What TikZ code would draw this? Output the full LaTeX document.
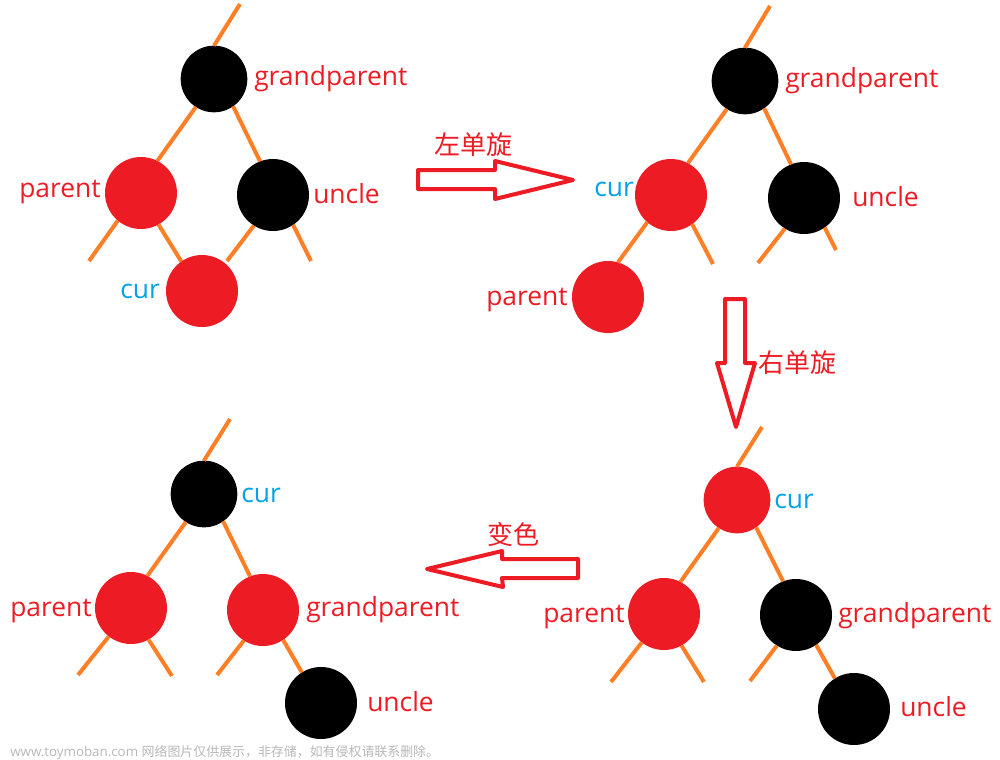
\documentclass[tikz,border=0pt]{standalone}
\usepackage{fontspec}
\setmainfont{Open Sans}
\newfontfamily\cjk{Noto Sans CJK SC}
\definecolor{pred}{HTML}{ED1C24}
\definecolor{porange}{HTML}{FF7F27}
\definecolor{pblue}{HTML}{00A2E8}
\tikzset{
  big/.style={circle,inner sep=0pt,outer sep=0pt,minimum size=54pt},
  small/.style={circle,inner sep=0pt,outer sep=0pt,minimum size=50pt},
  rn/.style={fill=pred},
  bn/.style={fill=black},
  link/.style={draw=porange,line width=3pt},
  redlabel/.style={text=pred,anchor=base west,inner sep=0pt,xshift=-0.75pt,yshift=-0.5pt,font=\fontsize{19.8pt}{22pt}\selectfont},
  bluelabel/.style={text=pblue,anchor=base west,inner sep=0pt,xshift=-0.75pt,yshift=-0.5pt,font=\fontsize{19.8pt}{22pt}\selectfont},
  cjklabel/.style={text=pred,inner sep=0pt,font=\cjk\fontsize{19.5pt}{22pt}\selectfont},
  blockarrow/.style={draw=pred,line width=3pt,line join=round,fill=white},
  mark text/.style={text=black!28,anchor=base west,inner sep=0pt,font=\fontsize{10pt}{12pt}\selectfont}
}
\begin{document}
\begin{tikzpicture}[x=0.75pt,y=-0.75pt]
\useasboundingbox (0,0) rectangle (1000,760);
% panel 1
\node[small,bn] (a1) at (214,79) {};
\node[big,rn] (b1) at (141,193) {};
\node[big,bn] (c1) at (273,195) {};
\node[big,rn] (d1) at (202,291) {};
\coordinate (a1top) at (240,4);
\coordinate (b1l) at (89,261);
\coordinate (c1l) at (227,261);
\coordinate (c1r) at (311,261);
\draw[link] (a1.90) -- (a1top);
\draw[link] (a1.237) -- (b1.63);
\draw[link] (a1.305) -- (c1.111);
\draw[link] (b1.230) -- (b1l);
\draw[link] (b1.299) -- (d1.125);
\draw[link] (c1.238) -- (c1l);
\draw[link] (c1.304) -- (c1r);
\node[redlabel] (ta1) at (255,85) {grandparent};
\node[redlabel] (tb1) at (20,197) {parent};
\node[redlabel] (tc1) at (314,203) {uncle};
\node[bluelabel] (td1) at (121,298) {cur};
% panel 2
\node[small,bn] (a2) at (745,81) {};
\node[big,rn] (b2) at (671,195) {};
\node[big,bn] (c2) at (804,198) {};
\node[big,rn] (d2) at (608,297) {};
\coordinate (a2top) at (770,6);
\coordinate (b2r) at (713,264);
\coordinate (c2l) at (758,263);
\coordinate (c2r) at (836,250);
\draw[link] (a2.90) -- (a2top);
\draw[link] (a2.237) -- (b2.62);
\draw[link] (a2.305) -- (c2.111);
\draw[link] (b2.229) -- (d2.74);
\draw[link] (b2.306) -- (b2r);
\draw[link] (c2.238) -- (c2l);
\draw[link] (c2.305) -- (c2r);
\node[redlabel] (ta2) at (786,87) {grandparent};
\node[bluelabel] (tb2) at (595,196) {cur};
\node[redlabel] (tc2) at (853,206) {uncle};
\node[redlabel] (td2) at (487,305) {parent};
% panel 3
\node[small,rn] (a3) at (737,500) {};
\node[big,rn] (b3) at (664,614) {};
\node[big,bn] (c3) at (796,615) {};
\node[big,bn] (d3) at (854,709) {};
\coordinate (a3top) at (762,427);
\coordinate (b3l) at (611,682);
\coordinate (b3r) at (704,682);
\coordinate (c3l) at (750,681);
\draw[link] (a3.90) -- (a3top);
\draw[link] (a3.237) -- (b3.63);
\draw[link] (a3.305) -- (c3.111);
\draw[link] (b3.232) -- (b3l);
\draw[link] (b3.299) -- (b3r);
\draw[link] (c3.238) -- (c3l);
\draw[link] (c3.304) -- (d3.122);
\node[bluelabel] (ta3) at (775,508) {cur};
\node[redlabel] (tb3) at (544,622) {parent};
\node[redlabel] (tc3) at (839,622) {grandparent};
\node[redlabel] (td3) at (901,716) {uncle};
% panel 4
\node[small,bn] (a4) at (204,494) {};
\node[big,rn] (b4) at (131,608) {};
\node[big,rn] (c4) at (263,610) {};
\node[big,bn] (d4) at (321,703) {};
\coordinate (a4top) at (230,419);
\coordinate (b4l) at (78,675);
\coordinate (b4r) at (172,676);
\coordinate (c4l) at (217,675);
\draw[link] (a4.90) -- (a4top);
\draw[link] (a4.237) -- (b4.63);
\draw[link] (a4.305) -- (c4.111);
\draw[link] (b4.232) -- (b4l);
\draw[link] (b4.299) -- (b4r);
\draw[link] (c4.238) -- (c4l);
\draw[link] (c4.304) -- (d4.122);
\node[bluelabel] (ta4) at (242,502) {cur};
\node[redlabel] (tb4) at (11,616) {parent};
\node[redlabel] (tc4) at (307,616) {grandparent};
\node[redlabel] (td4) at (368,711) {uncle};
% block arrows
\draw[blockarrow] (418,170) -- (495,170) -- (495,161) -- (573,180) -- (495,199) -- (495,189) -- (418,189) -- cycle;
\draw[blockarrow] (725,299) -- (745,299) -- (745,363) -- (755,363) -- (736,427) -- (717,363) -- (725,363) -- cycle;
\draw[blockarrow] (578,559) -- (502,559) -- (502,551) -- (427,569) -- (503,587) -- (502,578) -- (578,578) -- cycle;
\node[cjklabel] (l1) at (473,145) {左单旋};
\node[cjklabel] (l2) at (797,363) {右单旋};
\node[cjklabel] (l3) at (513,535) {变色};
\node[mark text] (wm) at (10,756) {www.toymoban.com {\cjk\fontsize{9.7pt}{12pt}\selectfont 网络图片仅供展示，非存储，如有侵权请联系删除。}};
\end{tikzpicture}
\end{document}
